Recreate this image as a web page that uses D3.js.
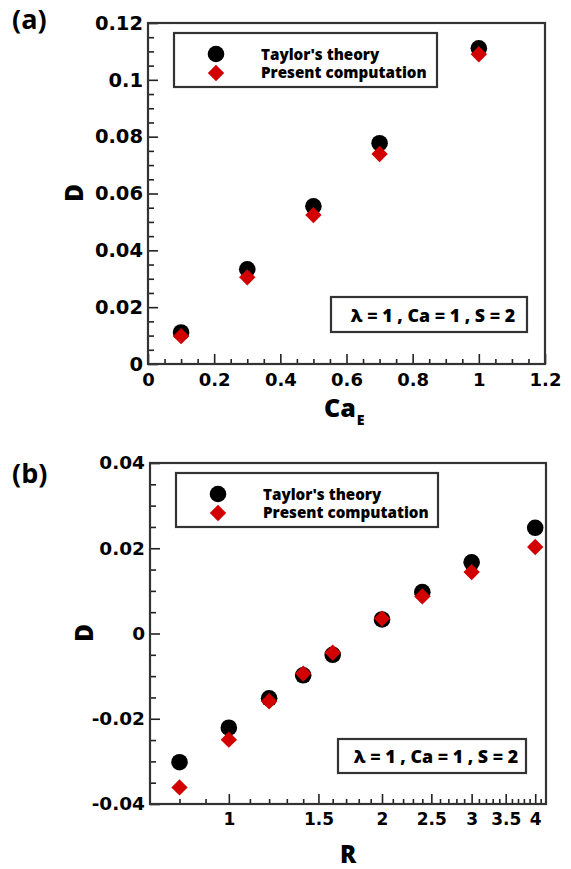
<!DOCTYPE html>
<html>
<head>
<meta charset="utf-8">
<script src="https://cdn.jsdelivr.net/npm/d3@7"></script>
<style>
  html, body { margin: 0; padding: 0; background: #fff; }
  svg { display: block; }
  text { font-family: "Open Sans", "DejaVu Sans", sans-serif; font-weight: 800; fill: #000; }
</style>
</head>
<body>
<svg id="fig" width="571" height="869"></svg>
<script>
// Panel (a): deformation D against electric capillary number Ca_E
const caE = [0.1, 0.3, 0.5, 0.7, 1.0];
const taylorA = [0.0111, 0.0333, 0.0555, 0.0777, 0.1111];
const computedA = [0.0098, 0.0305, 0.0524, 0.0739, 0.1090];
const xTicksA = [0, 0.2, 0.4, 0.6, 0.8, 1, 1.2];
const yTicksA = [0, 0.02, 0.04, 0.06, 0.08, 0.1, 0.12];

// Panel (b): deformation D against conductivity ratio R
const ratioR = [0.8, 1.0, 1.2, 1.4, 1.6, 2.0, 2.4, 3.0, 4.0];
const taylorB = [-0.0302, -0.0221, -0.0152, -0.0098, -0.0050, 0.0033, 0.0097, 0.0167, 0.0248];
const computedB = [-0.0361, -0.0249, -0.0159, -0.0094, -0.0045, 0.0035, 0.0087, 0.0144, 0.0203];
const xTicksB = [1, 1.5, 2, 2.5, 3, 3.5, 4];
const xMinorB = [0.8, 0.9, 1.1, 1.2, 1.3, 1.4, 1.6, 1.7, 1.8, 1.9, 2.1, 2.2, 2.3, 2.4, 2.6, 2.7, 2.8, 2.9, 3.1, 3.2, 3.3, 3.4, 3.6, 3.7, 3.8, 3.9, 4.1];
const yTicksB = [-0.04, -0.02, 0, 0.02, 0.04];

const legendNames = ["Taylor's theory", "Present computation"];
const paramText = "\u03bb = 1 , Ca = 1 , S = 2";

const RED = "#d20000";
const TICK_FONT = "DejaVu Sans";
const svg = d3.select("#fig");

function range(a, b, step) {
  const out = [];
  for (let v = a; v <= b + 1e-9; v += step) out.push(+v.toFixed(6));
  return out;
}

function panel(opts) {
  const { left, top, right, bottom, x, y, xTicks, xMinor, yTicks, yMinor,
          fmtX, fmtY, xFont, yFont, xs, t, c, tag, tagY,
          yLabelX, yLabelY, legendBox, paramBox } = opts;
  const g = svg.append("g");

  // bottom axis, ticks pointing into the plot
  const ax = g.append("g").attr("transform", `translate(0,${bottom})`)
    .call(d3.axisBottom(x).tickValues(xTicks).tickFormat(fmtX).tickSize(-10).tickPadding(9));
  ax.selectAll("text").attr("font-size", xFont).style("font-family", TICK_FONT)
    .style("font-weight", 700).attr("dy", "0.71em");
  ax.select(".domain").remove();
  g.append("g").attr("transform", `translate(0,${bottom})`)
    .call(d3.axisBottom(x).tickValues(xMinor).tickFormat("").tickSize(-5))
    .call(s => s.select(".domain").remove());

  // left axis
  const ay = g.append("g").attr("transform", `translate(${left},0)`)
    .call(d3.axisLeft(y).tickValues(yTicks).tickFormat(fmtY).tickSize(-10).tickPadding(5));
  ay.selectAll("text").attr("font-size", yFont).style("font-family", TICK_FONT)
    .style("font-weight", 700);
  ay.select(".domain").remove();
  g.append("g").attr("transform", `translate(${left},0)`)
    .call(d3.axisLeft(y).tickValues(yMinor).tickFormat("").tickSize(-6))
    .call(s => s.select(".domain").remove());

  g.selectAll(".tick line").attr("stroke", "#222").attr("stroke-width", 1.6);

  // frame
  g.append("rect").attr("x", left).attr("y", top)
    .attr("width", right - left).attr("height", bottom - top)
    .attr("fill", "none").attr("stroke", "#333").attr("stroke-width", 2.2);

  // markers: theory circles underneath, computed diamonds on top
  const diamond = d3.symbol().type(d3.symbolDiamond2).size(170);
  g.selectAll("circle.th").data(xs).join("circle")
    .attr("cx", d => x(d)).attr("cy", (d, i) => y(t[i])).attr("r", 8.3).attr("fill", "#000");
  g.selectAll("path.cp").data(xs).join("path")
    .attr("d", diamond)
    .attr("transform", (d, i) => `translate(${x(d)},${y(c[i])})`)
    .attr("fill", RED);

  // legend
  const lb = legendBox;
  g.append("rect").attr("x", lb.x).attr("y", lb.y).attr("width", lb.w).attr("height", lb.h)
    .attr("fill", "#fff").attr("stroke", "#333").attr("stroke-width", 2.2);
  g.append("circle").attr("cx", lb.x + 42).attr("cy", lb.y + 21).attr("r", 8.3).attr("fill", "#000");
  g.append("path").attr("d", diamond).attr("transform", `translate(${lb.x + 42},${lb.y + 40})`).attr("fill", RED);
  legendNames.forEach((name, i) => {
    g.append("text").attr("x", lb.x + 87).attr("y", lb.y + 26.5 + i * 18.5)
      .attr("font-size", 15.2).text(name);
  });

  // parameter box
  const pb = paramBox;
  g.append("rect").attr("x", pb.x).attr("y", pb.y).attr("width", pb.w).attr("height", pb.h)
    .attr("fill", "#fff").attr("stroke", "#333").attr("stroke-width", 2.2);
  g.append("text").attr("x", pb.x + pb.w / 2 + 4).attr("y", pb.y + pb.h / 2 + 7)
    .attr("text-anchor", "middle").attr("font-size", 17.8).text(paramText);

  // y label and panel tag
  g.append("text").attr("transform", `translate(${yLabelX},${yLabelY}) rotate(-90)`)
    .attr("text-anchor", "middle").attr("font-size", 24).text("D");
  g.append("text").attr("x", 12).attr("y", tagY).attr("font-size", 27)
    .style("font-weight", 700).text(tag);
  return g;
}

// ---- panel (a) ----
const xA = d3.scaleLinear().domain([0, 1.2]).range([148, 545]);
const yA = d3.scaleLinear().domain([0, 0.12]).range([364, 23]);
const fmtPlain = d => String(d);
const gA = panel({
  left: 148, top: 23, right: 545, bottom: 364, x: xA, y: yA,
  xTicks: xTicksA, xMinor: range(0.05, 1.15, 0.05).filter(v => !xTicksA.some(t => Math.abs(t - v) < 1e-6)),
  yTicks: yTicksA, yMinor: range(0.005, 0.115, 0.005).filter(v => !yTicksA.some(t => Math.abs(t - v) < 1e-6)),
  fmtX: fmtPlain, fmtY: fmtPlain, xFont: 18, yFont: 19.5,
  xs: caE, t: taylorA, c: computedA, tag: "(a)", tagY: 29,
  yLabelX: 83, yLabelY: 193,
  legendBox: { x: 174, y: 33, w: 263, h: 54 },
  paramBox: { x: 331, y: 297, w: 196, h: 35 }
});
const caLabel = gA.append("text").attr("x", 324).attr("y", 417).attr("font-size", 25);
caLabel.append("tspan").text("Ca");
caLabel.append("tspan").attr("font-size", 14).attr("dx", 1).attr("dy", 8).text("E");

// ---- panel (b) ----
const xB = d3.scaleLog().domain([0.7, 4.2]).range([150, 546]);
const yB = d3.scaleLinear().domain([-0.04, 0.04]).range([804, 463]);
const fmtHyphen = d => String(d).replace("\u2212", "-");
const gB = panel({
  left: 150, top: 463, right: 546, bottom: 804, x: xB, y: yB,
  xTicks: xTicksB, xMinor: xMinorB,
  yTicks: yTicksB, yMinor: range(-0.035, 0.035, 0.005).filter(v => !yTicksB.some(t => Math.abs(t - v) < 1e-6)),
  fmtX: fmtPlain, fmtY: fmtHyphen, xFont: 17, yFont: 18.5,
  xs: ratioR, t: taylorB, c: computedB, tag: "(b)", tagY: 483,
  yLabelX: 93, yLabelY: 633,
  legendBox: { x: 176, y: 473, w: 262, h: 54 },
  paramBox: { x: 338, y: 739, w: 188, h: 34 }
});
gB.append("text").attr("x", 348).attr("y", 863).attr("text-anchor", "middle")
  .attr("font-size", 24).text("R");
</script>
</body>
</html>
